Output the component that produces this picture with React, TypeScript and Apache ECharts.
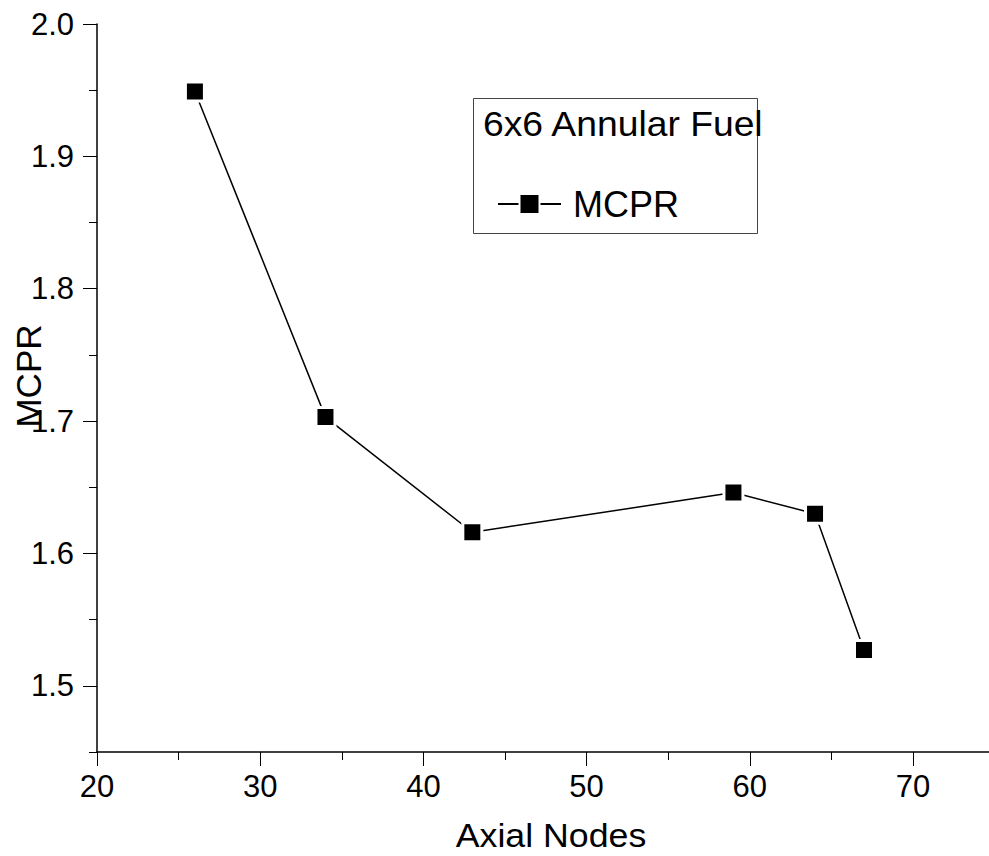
import React, { useEffect, useRef } from "react";
import * as echarts from "echarts";

const axialNodes = [26, 34, 43, 59, 64, 67];
const mcprValues = [1.949, 1.703, 1.616, 1.646, 1.63, 1.527];
const xMajorTicks = [20, 30, 40, 50, 60, 70];
const xMinorTicks = [25, 35, 45, 55, 65];
const yMajorTicks = [1.5, 1.6, 1.7, 1.8, 1.9, 2.0];
const yMinorTicks = [1.45, 1.55, 1.65, 1.75, 1.85, 1.95];
const seriesName = "MCPR";
const legendTitle = "6x6 Annular Fuel";
const xTitle = "Axial Nodes";
const yTitle = "MCPR";

const FONT = "'Liberation Sans', Arial, Helvetica, sans-serif";

export default function App() {
  const ref = useRef<HTMLDivElement>(null);
  useEffect(() => {
    if (!ref.current) return;
    const chart = echarts.init(ref.current, null, { renderer: "svg" });
    const xMin = 20;
    const xMax = 74.66;
    const yMin = 1.45;
    const yMax = 2.0;
    const grid = { left: 97, right: 0, top: 24, bottom: 104 };
    chart.setOption({
      animation: false,
      backgroundColor: "#fff",
      textStyle: { fontFamily: FONT },
      grid,
      xAxis: [
        {
          type: "value",
          min: xMin,
          max: xMax,
          axisLine: { show: true, onZero: false, lineStyle: { color: "#000", width: 1.5 } },
          axisTick: { show: true, inside: false, length: 14, customValues: xMajorTicks, lineStyle: { color: "#000", width: 1 } },
          axisLabel: { show: true, customValues: xMajorTicks, margin: 19, fontSize: 31, color: "#000", fontFamily: FONT },
          splitLine: { show: false },
        },
        {
          type: "value",
          min: xMin,
          max: xMax,
          position: "bottom",
          axisLine: { show: false, onZero: false },
          axisTick: { show: true, length: 8, customValues: xMinorTicks, lineStyle: { color: "#000", width: 1 } },
          axisLabel: { show: false },
          splitLine: { show: false },
        },
      ],
      yAxis: [
        {
          type: "value",
          min: yMin,
          max: yMax,
          axisLine: { show: true, onZero: false, lineStyle: { color: "#000", width: 1.5 } },
          axisTick: { show: true, length: 14, customValues: yMajorTicks, lineStyle: { color: "#000", width: 1 } },
          axisLabel: {
            show: true,
            customValues: yMajorTicks,
            margin: 23,
            fontSize: 31,
            color: "#000",
            fontFamily: FONT,
            formatter: (v: number) => v.toFixed(1),
          },
          splitLine: { show: false },
        },
        {
          type: "value",
          min: yMin,
          max: yMax,
          position: "left",
          axisLine: { show: false, onZero: false },
          axisTick: { show: true, length: 8, customValues: yMinorTicks, lineStyle: { color: "#000", width: 1 } },
          axisLabel: { show: false },
          splitLine: { show: false },
        },
      ],
      legend: {
        show: true,
        data: [seriesName],
        left: 497,
        top: 186,
        padding: 0,
        itemWidth: 63,
        itemHeight: 25,
        textStyle: { fontSize: 36, color: "#000", fontFamily: FONT, padding: [0, 0, 0, 7] },
      },
      graphic: [
        {
          type: "rect",
          shape: { x: 473.5, y: 98.5, width: 284, height: 135 },
          style: { fill: "none", stroke: "#444", lineWidth: 1 },
          z: 10,
        },
        {
          type: "text",
          x: 483,
          y: 124,
          scaleX: 1.065,
          style: {
            text: legendTitle,
            fontSize: 35,
            fontFamily: FONT,
            fill: "#000",
            align: "left",
            verticalAlign: "middle",
          },
          z: 11,
        },
        {
          type: "text",
          x: 28,
          y: 376,
          rotation: Math.PI / 2,
          style: {
            text: yTitle,
            fontSize: 35,
            fontFamily: FONT,
            fill: "#000",
            align: "center",
            verticalAlign: "middle",
          },
        },
        {
          type: "text",
          x: 551,
          y: 835,
          scaleX: 1.05,
          style: {
            text: xTitle,
            fontSize: 34,
            fontFamily: FONT,
            fill: "#000",
            align: "center",
            verticalAlign: "middle",
          },
        },
      ],
      series: [
        {
          name: seriesName,
          type: "line",
          xAxisIndex: 0,
          yAxisIndex: 0,
          data: axialNodes.map((x, i) => [x, mcprValues[i]]),
          symbol: "rect",
          symbolSize: 19,
          showSymbol: true,
          lineStyle: { color: "#000", width: 1.5 },
          itemStyle: { color: "#000", borderColor: "#fff", borderWidth: 3 },
          clip: false,
        },
      ],
    });
    return () => chart.dispose();
  }, []);
  return (
    <div
      ref={ref}
      style={{ position: "fixed", left: 0, top: 0, width: 989, height: 856, background: "#fff" }}
    />
  );
}
